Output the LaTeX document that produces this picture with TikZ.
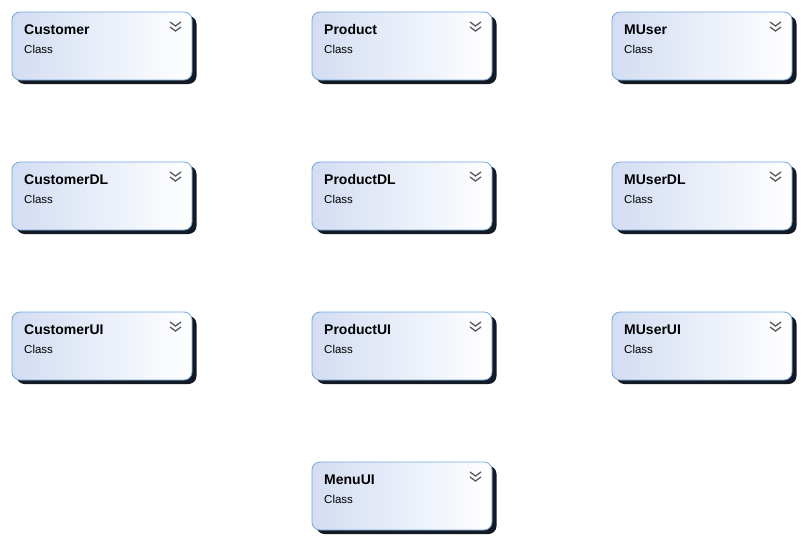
\documentclass[tikz,border=0pt]{standalone}
\usepackage{fontspec}
\setmainfont{Liberation Sans}
\usetikzlibrary{positioning,shadows}

\definecolor{boxborder}{HTML}{74A6DC}
\definecolor{boxleft}{HTML}{D3DDF2}
\definecolor{boxshadow}{HTML}{141A24}
\definecolor{chevron}{HTML}{5A5A5A}

\begin{document}
\begin{tikzpicture}[x=1pt, y=1pt,
    classbox/.style={rectangle, draw=boxborder, line width=0.8pt, rounded corners=8pt,
    minimum width=180pt, minimum height=68pt, inner sep=0pt, outer sep=0pt,
    left color=boxleft, right color=white,
    drop shadow={shadow xshift=4.5pt, shadow yshift=-4pt, fill=boxshadow, opacity=1},
    path picture={
        \draw[chevron, line width=1.3pt, sharp corners]
            ([xshift=-22pt, yshift=-10pt]path picture bounding box.north east) -- ++(5.5pt,-4pt) -- ++(5.5pt,4pt)
            ([xshift=-22pt, yshift=-15pt]path picture bounding box.north east) -- ++(5.5pt,-4pt) -- ++(5.5pt,4pt);
    },
    label={[anchor=base west, inner sep=0pt, xshift=12pt, yshift=-22pt, font=\fontsize{14}{16}\selectfont\bfseries]north west:#1},
    label={[anchor=base west, inner sep=0pt, xshift=12pt, yshift=-41.5pt, font=\fontsize{11.5}{13}\selectfont]north west:Class}},
    ]
    \useasboundingbox (0,0) rectangle (804,-541);

    % first row
    \node (customer) [classbox=Customer, anchor=north west] at (12,-12) {};
    \node (product) [classbox=Product, right=120pt of customer] {};
    \node (muser) [classbox=MUser, right=120pt of product] {};

    % data layer
    \node (customerdl) [classbox=CustomerDL, below=82pt of customer] {};
    \node (productdl) [classbox=ProductDL, below=82pt of product] {};
    \node (muserdl) [classbox=MUserDL, below=82pt of muser] {};

    % user interface
    \node (customerui) [classbox=CustomerUI, below=82pt of customerdl] {};
    \node (productui) [classbox=ProductUI, below=82pt of productdl] {};
    \node (muserui) [classbox=MUserUI, below=82pt of muserdl] {};

    \node (menuui) [classbox=MenuUI, below=82pt of productui] {};
\end{tikzpicture}
\end{document}
